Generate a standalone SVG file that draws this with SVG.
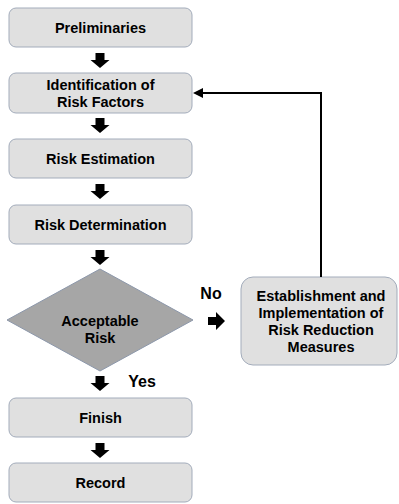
<svg xmlns="http://www.w3.org/2000/svg" width="399" height="504" viewBox="0 0 399 504">
<style>
.box{fill:#e0e0e0;stroke:#a3acbb;stroke-width:1}
.dia{fill:#a6a6a6;stroke:#8c97aa;stroke-width:1}
.t{font-family:"Liberation Sans",Arial,sans-serif;font-weight:bold;font-size:14.5px;fill:#000;text-anchor:middle}
.lbl{font-size:16px}
.arr{fill:#000}
.line{fill:none;stroke:#000;stroke-width:2}
</style>
<defs>
<polygon id="down" points="-4.5,0 4.5,0 4.5,7 9.5,7 0,15 -9.5,7 -4.5,7"/>
</defs>
<g id="n-preliminaries">
<rect class="box" x="9" y="8" width="183" height="39" rx="7"/>
<text class="t" x="100.5" y="32.5">Preliminaries</text>
</g>
<g id="n-identification">
<rect class="box" x="9" y="73" width="183" height="40" rx="7"/>
<text class="t" x="100.5" y="90"><tspan x="100.5" y="90">Identification of</tspan><tspan x="100.5" y="107">Risk Factors</tspan></text>
</g>
<g id="n-estimation">
<rect class="box" x="9" y="139" width="183" height="39" rx="7"/>
<text class="t" x="100.5" y="163.5">Risk Estimation</text>
</g>
<g id="n-determination">
<rect class="box" x="9" y="205" width="183" height="39" rx="7"/>
<text class="t" x="100.5" y="229.5">Risk Determination</text>
</g>
<g id="n-acceptable">
<polygon class="dia" points="100,269 193,320 100,371 7,320"/>
<text class="t" x="100" y="326"><tspan x="100" y="326">Acceptable</tspan><tspan x="100" y="343">Risk</tspan></text>
</g>
<g id="n-measures">
<rect class="box" x="241" y="277" width="156" height="88" rx="12"/>
<text class="t" x="321" y="300.5"><tspan x="321" y="300.5">Establishment and</tspan><tspan x="321" y="317.5">Implementation of</tspan><tspan x="321" y="334.5">Risk Reduction</tspan><tspan x="321" y="351.5">Measures</tspan></text>
</g>
<g id="n-finish">
<rect class="box" x="9" y="398" width="183" height="39" rx="7"/>
<text class="t" x="100.5" y="422.5">Finish</text>
</g>
<g id="n-record">
<rect class="box" x="9" y="463" width="183" height="39" rx="7"/>
<text class="t" x="100.5" y="487.5">Record</text>
</g>
<g id="connectors">
<use href="#down" class="arr" x="100" y="53"/>
<use href="#down" class="arr" x="100" y="118"/>
<use href="#down" class="arr" x="100" y="184"/>
<use href="#down" class="arr" x="100" y="250"/>
<use href="#down" class="arr" x="100" y="376"/>
<use href="#down" class="arr" x="100" y="443"/>
<polygon class="arr" points="208,317 216,317 216,312 225,321 216,330 216,325 208,325"/>
<polyline class="line" points="321,277 321,93 200,93"/>
<polygon class="arr" points="193,93 203,88 203,98"/>
<text class="t lbl" x="142" y="387">Yes</text>
<text class="t lbl" x="211" y="299">No</text>
</g>
</svg>
